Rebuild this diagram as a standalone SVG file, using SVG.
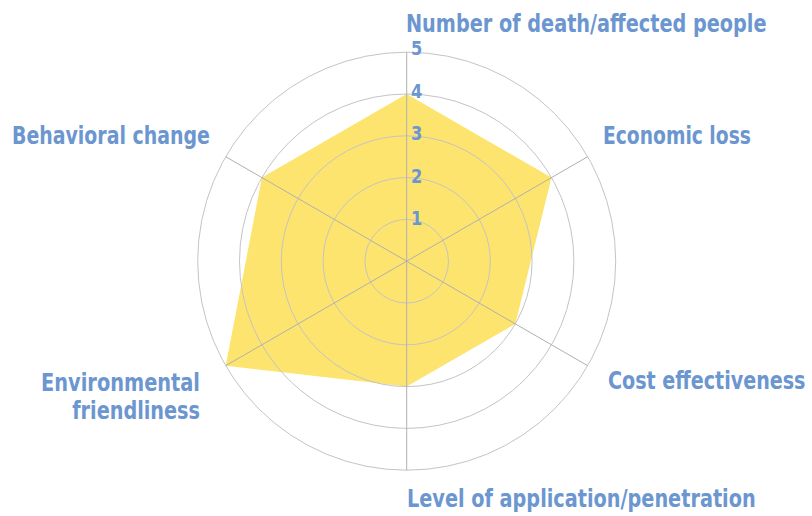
<svg xmlns="http://www.w3.org/2000/svg" width="812" height="516" viewBox="0 0 812 516">
<style>
.ring{fill:none;stroke:#c4c4c4;stroke-width:1}
.axis{stroke:#b0b0b0;stroke-width:1}
.lbl{font-family:"DejaVu Sans Condensed","DejaVu Sans",sans-serif;font-weight:bold;font-size:25px;fill:#6b96cf}
.num{font-family:"DejaVu Sans Condensed","DejaVu Sans",sans-serif;font-weight:bold;font-size:20px;fill:#6b96cf}
</style>
<rect width="812" height="516" fill="#ffffff"/>
<g id="data">
<polygon points="406.7,94 551.5,177.6 515.3,323.9 406.7,386.6 225.7,365.7 261.9,177.6" fill="#fde46e"/>
</g>
<g id="grid">
<circle class="ring" cx="406.7" cy="261.2" r="41.8"/>
<circle class="ring" cx="406.7" cy="261.2" r="83.6"/>
<circle class="ring" cx="406.7" cy="261.2" r="125.4"/>
<circle class="ring" cx="406.7" cy="261.2" r="167.2"/>
<circle class="ring" cx="406.7" cy="261.2" r="209"/>
<line class="axis" x1="406.7" y1="261.2" x2="406.7" y2="52.2"/>
<line class="axis" x1="406.7" y1="261.2" x2="587.7" y2="156.7"/>
<line class="axis" x1="406.7" y1="261.2" x2="587.7" y2="365.7"/>
<line class="axis" x1="406.7" y1="261.2" x2="406.7" y2="470.2"/>
<line class="axis" x1="406.7" y1="261.2" x2="225.7" y2="365.7"/>
<line class="axis" x1="406.7" y1="261.2" x2="225.7" y2="156.7"/>
</g>
<g id="scale">
<text class="num" transform="translate(411,55) scale(0.9,1)">5</text>
<text class="num" transform="translate(411,98) scale(0.9,1)">4</text>
<text class="num" transform="translate(411,140) scale(0.9,1)">3</text>
<text class="num" transform="translate(411,183) scale(0.9,1)">2</text>
<text class="num" transform="translate(411,225) scale(0.9,1)">1</text>
</g>
<g id="labels">
<text class="lbl" transform="translate(406,32) scale(0.857,1)">Number of death/affected people</text>
<text class="lbl" transform="translate(603,144) scale(0.832,1)">Economic loss</text>
<text class="lbl" transform="translate(608,389) scale(0.85,1)">Cost effectiveness</text>
<text class="lbl" transform="translate(407,507) scale(0.857,1)">Level of application/penetration</text>
<text class="lbl" text-anchor="end" transform="translate(200,391) scale(0.861,1)">Environmental</text>
<text class="lbl" text-anchor="end" transform="translate(200,419) scale(0.856,1)">friendliness</text>
<text class="lbl" transform="translate(12,144) scale(0.842,1)">Behavioral change</text>
</g>
</svg>
